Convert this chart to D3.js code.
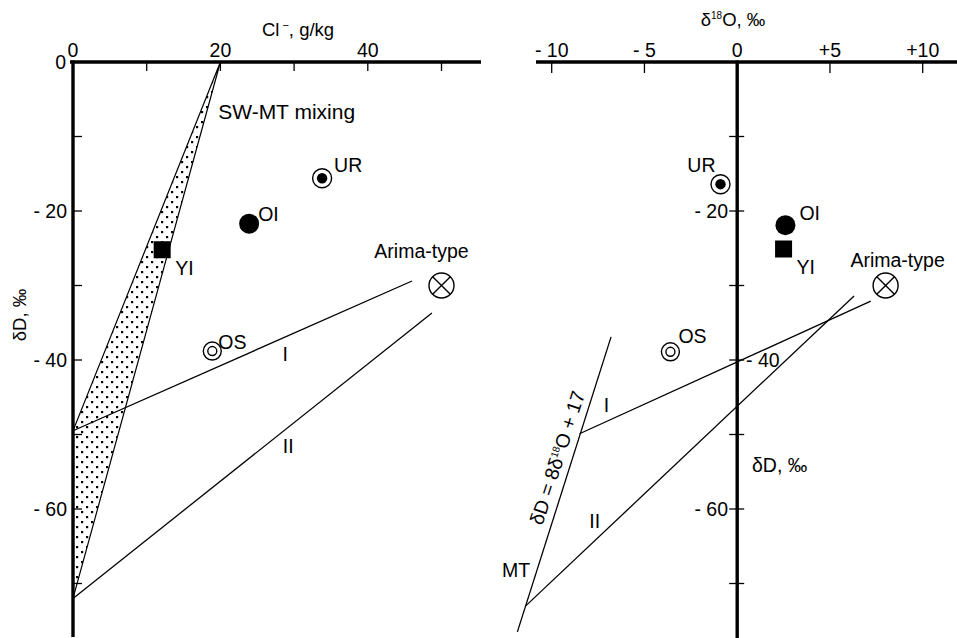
<!DOCTYPE html>
<html>
<head>
<meta charset="utf-8">
<script src="https://cdn.jsdelivr.net/npm/d3@7"></script>
<style>
    body { margin: 0; background: #fff; }
    svg text { font-family: "Liberation Sans", Arial, sans-serif; fill: #000; }
</style>
</head>
<body>
<svg id="chart" width="957" height="638"></svg>
<script>

// ********************** //
//          Data          //
// ********************** //

var samples = ['UR', 'OI', 'YI', 'OS', 'Arima-type'];
var markerTypes = ['ringDot', 'disc', 'square', 'bullseye', 'cross'];

// left panel: Cl- (g/kg) vs dD
var clValues = [33.8, 23.9, 12.1, 18.9, 50.0];
var dDLeft = [-15.6, -21.7, -25.2, -38.8, -30.0];

// right panel: d18O vs dD
var d18OValues = [-0.9, 2.6, 2.5, -3.6, 8.0];
var dDRight = [-16.4, -21.9, -25.1, -38.9, -30.0];

// SW-MT mixing wedge and mixing lines (left)
var mixingWedge = [[20, 0], [0, -49.5], [0, -72]];
var lineILeft = [[0, -49.5], [46.0, -29.4]];
var lineIILeft = [[0, -72], [48.7, -33.7]];

// meteoric line and mixing lines (right)
var mtLine = [[-6.8, -36.9], [-11.85, -76.5]];
var lineIRight = [[-8.5, -49.9], [7.2, -32.1]];
var lineIIRight = [[-11.4, -73.0], [6.3, -31.4]];

// ticks
var clTicks = [10, 20, 30, 40, 50];
var clTickLabels = [0, 20, 40];
var o18Ticks = [-10, -5, 5, 10];
var o18TickLabels = ['- 10', '- 5', '0', '+5', '+10'];
var o18LabelValues = [-10, -5, 0, 5, 10];
var dDTicks = [-10, -20, -30, -40, -50, -60, -70];
var dDTickLabels = ['- 20', '- 40', '- 60'];
var dDLabelValues = [-20, -40, -60];


// ********************** //
//         Setup          //
// ********************** //

var FS = 19.5;
var svg = d3.select('#chart');

var xL = d3.scaleLinear().domain([0, 50]).range([73, 441.5]);
var xR = d3.scaleLinear().domain([-10, 10]).range([551.7, 922.7]);
var y = d3.scaleLinear().domain([0, -70]).range([62, 583.5]);

var defs = svg.append('defs');
var pat = defs.append('pattern')
    .attr('id', 'dots')
    .attr('patternUnits', 'userSpaceOnUse')
    .attr('width', 10)
    .attr('height', 10);
pat.append('rect').attr('x', 1).attr('y', 1).attr('width', 2.2).attr('height', 2.2).attr('fill', '#000');
pat.append('rect').attr('x', 6).attr('y', 6).attr('width', 2.2).attr('height', 2.2).attr('fill', '#000');

var line = function(xs) {
    return d3.line().x(d => xs(d[0])).y(d => y(d[1]));
};

var note = function(x, yy, txt, anchor, size) {
    return svg.append('text')
        .attr('x', x)
        .attr('y', yy)
        .attr('text-anchor', anchor || 'start')
        .attr('font-size', size || FS)
        .text(txt);
};

// ***** Markers ***** //
var drawMarker = function(g, type, cx, cy) {
    if (type == 'disc') {
        g.append('circle').attr('cx', cx).attr('cy', cy).attr('r', 10).attr('fill', '#000');
    } else if (type == 'square') {
        g.append('rect').attr('x', cx - 8.5).attr('y', cy - 8.5)
            .attr('width', 17).attr('height', 17).attr('fill', '#000');
    } else if (type == 'ringDot') {
        g.append('circle').attr('cx', cx).attr('cy', cy).attr('r', 9.5)
            .attr('fill', '#fff').attr('stroke', '#000').attr('stroke-width', 1.4);
        g.append('circle').attr('cx', cx).attr('cy', cy).attr('r', 5.2).attr('fill', '#000');
    } else if (type == 'bullseye') {
        g.append('circle').attr('cx', cx).attr('cy', cy).attr('r', 9)
            .attr('fill', '#fff').attr('stroke', '#000').attr('stroke-width', 1.4);
        g.append('circle').attr('cx', cx).attr('cy', cy).attr('r', 4.5)
            .attr('fill', 'none').attr('stroke', '#000').attr('stroke-width', 1.4);
    } else {
        var r = 12.5, k = r * Math.SQRT1_2;
        g.append('circle').attr('cx', cx).attr('cy', cy).attr('r', r)
            .attr('fill', '#fff').attr('stroke', '#000').attr('stroke-width', 1.4);
        g.append('path')
            .attr('d', 'M' + (cx - k) + ',' + (cy - k) + 'L' + (cx + k) + ',' + (cy + k)
                + 'M' + (cx + k) + ',' + (cy - k) + 'L' + (cx - k) + ',' + (cy + k))
            .attr('stroke', '#000').attr('stroke-width', 1.4);
    }
};


// ********************** //
//       Left Panel       //
// ********************** //

var gL = svg.append('g');

gL.append('path')
    .attr('d', line(xL)(mixingWedge) + 'Z')
    .attr('fill', 'url(#dots)')
    .attr('stroke', '#000')
    .attr('stroke-width', 1.2);

[lineILeft, lineIILeft].forEach(function(l) {
    gL.append('path')
        .attr('d', line(xL)(l))
        .attr('fill', 'none')
        .attr('stroke', '#000')
        .attr('stroke-width', 1.3);
});

// axes
gL.append('line').attr('x1', 70).attr('x2', 481).attr('y1', y(0)).attr('y2', y(0))
    .attr('stroke', '#000').attr('stroke-width', 3.4);
gL.append('line').attr('x1', xL(0)).attr('x2', xL(0)).attr('y1', y(0) - 1.5).attr('y2', 637)
    .attr('stroke', '#000').attr('stroke-width', 3.4);

gL.selectAll('.xtick').data(clTicks).enter().append('line')
    .attr('x1', d => xL(d)).attr('x2', d => xL(d))
    .attr('y1', y(0)).attr('y2', y(0) + 9)
    .attr('stroke', '#000').attr('stroke-width', 1.3);
gL.selectAll('.ytick').data(dDTicks).enter().append('line')
    .attr('x1', xL(0)).attr('x2', xL(0) + 9)
    .attr('y1', d => y(d)).attr('y2', d => y(d))
    .attr('stroke', '#000').attr('stroke-width', 1.3);

clTickLabels.forEach(v => note(xL(v), 57, v, 'middle'));
note(66, y(0) + 7, '0', 'end');
dDLabelValues.forEach((v, i) => note(67, y(v) + 7, dDTickLabels[i], 'end'));

var clTitle = note(298, 36, 'Cl', 'middle', 18.5);
clTitle.append('tspan').attr('font-size', 11).attr('dy', -7).text(' \u2212');
clTitle.append('tspan').attr('dy', 7).text(', g/kg');

svg.append('text')
    .attr('transform', 'translate(26,315) rotate(-90)')
    .attr('text-anchor', 'middle')
    .attr('font-size', 18.5)
    .text('\u03b4D, \u2030');

note(xL(19.7), y(-7.7), 'SW-MT mixing', 'start', 21);
note(xL(28.8), y(-40.1), 'I', 'middle');
note(xL(29.2), y(-52.5), 'II', 'middle');

var leftOffsets = [[12, -6, 'start'], [9, -3, 'start'], [13, 25, 'start'], [6, -2, 'start'], [-20, -28, 'middle']];
samples.forEach(function(s, i) {
    var cx = xL(clValues[i]), cy = y(dDLeft[i]);
    drawMarker(gL, markerTypes[i], cx, cy);
    note(cx + leftOffsets[i][0], cy + leftOffsets[i][1], s, leftOffsets[i][2]);
});


// ********************** //
//       Right Panel      //
// ********************** //

var gR = svg.append('g');

[mtLine, lineIRight, lineIIRight].forEach(function(l) {
    gR.append('path')
        .attr('d', line(xR)(l))
        .attr('fill', 'none')
        .attr('stroke', '#000')
        .attr('stroke-width', 1.3);
});

gR.append('line').attr('x1', 536).attr('x2', 957).attr('y1', y(0)).attr('y2', y(0))
    .attr('stroke', '#000').attr('stroke-width', 3.4);
gR.append('line').attr('x1', xR(0)).attr('x2', xR(0)).attr('y1', y(0) - 1.5).attr('y2', 638)
    .attr('stroke', '#000').attr('stroke-width', 3.4);

gR.selectAll('.xtick').data(o18Ticks).enter().append('line')
    .attr('x1', d => xR(d)).attr('x2', d => xR(d))
    .attr('y1', y(0)).attr('y2', y(0) + 11)
    .attr('stroke', '#000').attr('stroke-width', 1.3);
gR.selectAll('.ytick').data(dDTicks).enter().append('line')
    .attr('x1', xR(0) - 8).attr('x2', xR(0) + 7)
    .attr('y1', d => y(d)).attr('y2', d => y(d))
    .attr('stroke', '#000').attr('stroke-width', 1.3);

o18LabelValues.forEach((v, i) => note(xR(v), 57, o18TickLabels[i], 'middle'));
note(728, y(-20) + 7, dDTickLabels[0], 'end');
note(746, y(-40) + 7, dDTickLabels[1], 'start');
note(728, y(-60) + 7, dDTickLabels[2], 'end');

var oTitle = note(733, 26, '\u03b4', 'middle', 18.5);
oTitle.append('tspan').attr('font-size', 10).attr('dy', -7).text('18');
oTitle.append('tspan').attr('dy', 7).text('O, \u2030');

note(752, 472, '\u03b4D, \u2030');

note(xR(-7.05), y(-47.0), 'I', 'middle');
note(xR(-7.68), y(-62.6), 'II', 'middle');
note(xR(-11.92), y(-69.1), 'MT', 'middle');

var eq = svg.append('text')
    .attr('transform', 'translate(' + xR(-9.35) + ',' + y(-53.4) + ') rotate(-72)')
    .attr('text-anchor', 'middle')
    .attr('font-size', FS)
    .text('\u03b4D = 8\u03b4');
eq.append('tspan').attr('font-size', 10).attr('dy', -7).text('18');
eq.append('tspan').attr('dy', 7).text('O + 17');

var rightOffsets = [[-5, -12, 'end'], [14, -5, 'start'], [13, 25, 'start'], [8, -9, 'start'], [12, -19, 'middle']];
samples.forEach(function(s, i) {
    var cx = xR(d18OValues[i]), cy = y(dDRight[i]);
    drawMarker(gR, markerTypes[i], cx, cy);
    note(cx + rightOffsets[i][0], cy + rightOffsets[i][1], s, rightOffsets[i][2]);
});

</script>
</body>
</html>
